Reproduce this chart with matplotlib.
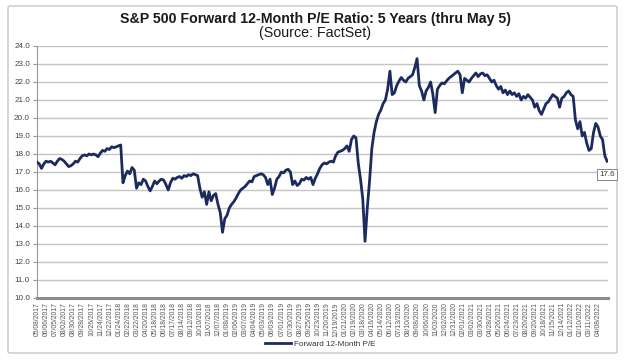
import numpy as np
import matplotlib
matplotlib.use("Agg")
import matplotlib.pyplot as plt
from matplotlib.patches import FancyBboxPatch

# Weekly forward 12-month P/E readings (approx. every 5 trading days), 05/05/2017 -> 05/05/2022
pe_2017 = [17.55, 17.45, 17.2, 17.45, 17.6, 17.55, 17.6, 17.5, 17.4, 17.6,
           17.75, 17.7, 17.6, 17.45, 17.3, 17.35, 17.45, 17.6, 17.55, 17.75,
           17.9, 17.95, 17.9, 18.0, 17.95, 18.0, 17.95, 17.85, 18.05, 18.2,
           18.15, 18.3, 18.25, 18.4, 18.35, 18.4, 18.45, 18.5]
pe_2018 = [16.4, 16.8, 17.05, 16.9, 17.25, 17.1, 16.1, 16.4, 16.3, 16.6,
           16.5, 16.2, 15.95, 16.2, 16.5, 16.35, 16.5, 16.6, 16.55, 16.3,
           16.0, 16.4, 16.65, 16.6, 16.7, 16.75, 16.65, 16.8, 16.75, 16.85,
           16.8, 16.9, 16.85, 16.8, 16.1, 15.6, 15.9, 15.2, 15.9, 15.4,
           15.7, 15.8, 15.2, 14.75, 13.65, 14.4, 14.6, 15.0, 15.2, 15.35]
pe_2019 = [15.55, 15.8, 16.0, 16.1, 16.2, 16.35, 16.5, 16.45, 16.75, 16.8,
           16.85, 16.9, 16.85, 16.7, 16.3, 16.6, 15.75, 16.1, 16.6, 16.75,
           17.0, 16.95, 17.1, 17.15, 17.0, 16.3, 16.5, 16.25, 16.35, 16.6,
           16.55, 16.7, 16.6, 16.7, 16.3, 16.65, 16.9, 17.2, 17.4, 17.5,
           17.45, 17.55, 17.6, 17.55, 17.9, 18.1, 18.15, 18.2, 18.3, 18.45,
           18.15, 18.8, 19.0, 18.9]
pe_2020 = [17.5, 16.6, 15.5, 13.15, 15.0, 16.5, 18.3, 19.2, 19.8, 20.2,
           20.45, 20.8, 21.0, 21.6, 22.6, 21.3, 21.4, 21.8, 22.05, 22.25,
           22.1, 22.0, 22.2, 22.3, 22.4, 22.8, 23.3, 21.8, 21.5, 21.0,
           21.5, 21.7, 22.0, 21.3, 20.3, 21.6, 21.8, 21.95, 21.9, 22.05,
           22.2, 22.3, 22.4, 22.5, 22.6, 22.4, 21.4, 22.2, 22.1, 22.0]
pe_2021 = [22.2, 22.35, 22.5, 22.3, 22.45, 22.5, 22.35, 22.4, 22.2, 22.0,
           22.1, 21.8, 21.6, 21.75, 21.4, 21.55, 21.3, 21.5, 21.3, 21.4,
           21.2, 21.35, 21.0, 21.2, 21.1, 21.3, 21.15, 21.0, 20.6, 20.8,
           20.4, 20.2, 20.5, 20.8, 20.9, 21.1, 21.3, 21.2, 21.1, 20.6,
           21.1, 21.2, 21.4, 21.5, 21.3, 21.2]
pe_2022 = [19.9, 19.4, 19.8, 19.0, 19.2, 18.6, 18.2, 18.3, 19.2, 19.7,
           19.5, 19.0, 18.8, 17.9, 17.6]

values = pe_2017 + pe_2018 + pe_2019 + pe_2020 + pe_2021 + pe_2022
days_per_step = 5
x = np.arange(len(values)) * days_per_step
last_value = values[-1]

tick_labels = ["05/08/2017", "06/06/2017", "07/05/2017", "08/02/2017", "08/30/2017",
               "09/28/2017", "10/26/2017", "11/24/2017", "12/22/2017", "01/24/2018",
               "02/22/2018", "03/22/2018", "04/20/2018", "05/18/2018", "06/18/2018",
               "07/17/2018", "08/14/2018", "09/12/2018", "10/10/2018", "11/07/2018",
               "12/07/2018", "01/08/2019", "02/06/2019", "03/07/2019", "04/04/2019",
               "05/03/2019", "06/03/2019", "07/01/2019", "07/30/2019", "08/27/2019",
               "09/25/2019", "10/23/2019", "11/20/2019", "12/19/2019", "01/21/2020",
               "02/19/2020", "03/18/2020", "04/16/2020", "05/14/2020", "06/12/2020",
               "07/13/2020", "08/10/2020", "09/08/2020", "10/06/2020", "11/03/2020",
               "12/02/2020", "12/31/2020", "02/01/2021", "03/02/2021", "03/30/2021",
               "04/28/2021", "05/26/2021", "06/24/2021", "07/23/2021", "08/20/2021",
               "09/20/2021", "10/18/2021", "11/15/2021", "12/14/2021", "01/12/2022",
               "02/10/2022", "03/11/2022", "04/08/2022"]
tick_pos = [1 + 20 * i for i in range(len(tick_labels))]

plt.rcParams['font.family'] = ['Liberation Sans', 'DejaVu Sans']

W, H = 630, 362
fig = plt.figure(figsize=(W / 100, H / 100), dpi=100)

# outer frame
frame = FancyBboxPatch((8 / W, 1 - 353 / H), (617 - 8) / W, (353 - 6) / H,
                       boxstyle="round,pad=0,rounding_size=0.004",
                       transform=fig.transFigure, facecolor='white',
                       edgecolor='#c8c8c8', linewidth=1.0, zorder=-5)
fig.patches.append(frame)

ax = fig.add_axes([37 / W, 1 - 298 / H, (608 - 37) / W, (298 - 46) / H])
ax.set_zorder(2)
ax.set_facecolor('none')

line_color = '#1c2b5e'
ax.plot(x, values, color=line_color, linewidth=2.0, solid_joinstyle='round',
        label='Forward 12-Month P/E', zorder=3)

ax.set_xlim(0, x[-1] + 2)
ax.set_ylim(10, 24)
ax.set_yticks(np.arange(10, 24.5, 1))
ax.set_yticklabels([f"{v:.1f}" for v in np.arange(10, 24.5, 1)])
ax.yaxis.grid(True, color='#c4c4c4', linewidth=1.0)
ax.set_axisbelow(True)

ax.set_xticks(tick_pos)
ax.set_xticklabels(tick_labels, rotation=90, fontsize=4.9, color='#555555')
ax.tick_params(axis='x', length=0, pad=3)
ax.tick_params(axis='y', length=3, width=0.8, color='#999999', labelsize=5.9,
               labelcolor='#444444', pad=2)

for s in ['top', 'right']:
    ax.spines[s].set_visible(False)
ax.spines['left'].set_color('#999999')
ax.spines['left'].set_linewidth(0.8)
ax.spines['bottom'].set_color('#8c8c8c')
ax.spines['bottom'].set_linewidth(2.2)

# end label
ax.annotate(f"{last_value:.1f}", xy=(x[-1], last_value), xytext=(0, -9.5),
            textcoords='offset points', ha='center', va='center', fontsize=5.8,
            color='#333333',
            bbox=dict(boxstyle='square,pad=0.25', facecolor='white',
                      edgecolor='#888888', linewidth=0.7), zorder=4)

fig.text(315 / W, 1 - 19 / H, "S&P 500 Forward 12-Month P/E Ratio: 5 Years (thru May 5)",
         ha='center', va='center', fontsize=10.2, fontweight='bold', color='#1a1a1a')
fig.text(315 / W, 1 - 33.5 / H, "(Source: FactSet)", ha='center', va='center',
         fontsize=10.3, color='#1a1a1a')

leg = fig.legend(loc='center', bbox_to_anchor=(320 / W, 1 - 344 / H), frameon=False,
                 fontsize=5.9, handlelength=3.2, handletextpad=0.3)
for t in leg.get_texts():
    t.set_color('#333333')

fig.savefig('out.png', dpi=100)
